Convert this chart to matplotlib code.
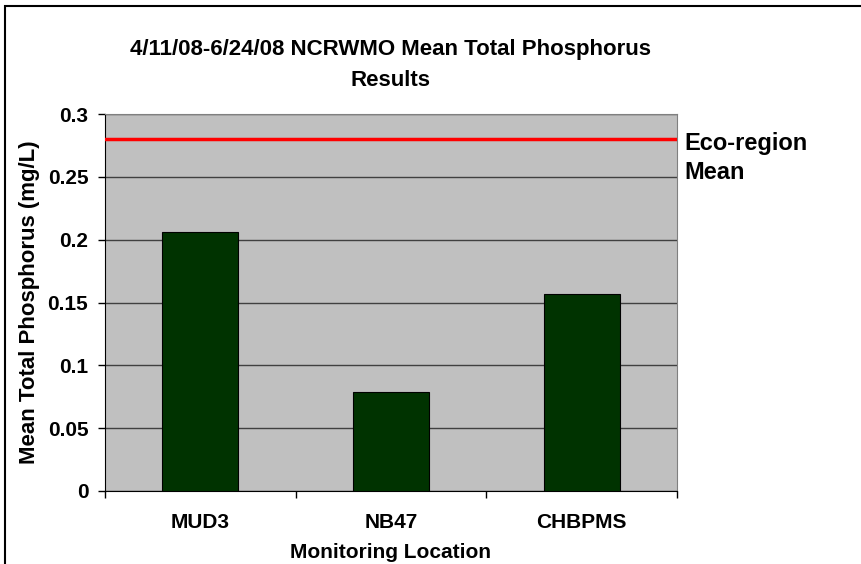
import matplotlib.pyplot as plt
from matplotlib.patches import Rectangle
import numpy as np

plt.rcParams['font.family'] = ['Liberation Sans', 'DejaVu Sans']

locations = ['MUD3', 'NB47', 'CHBPMS']
mean_tp = [0.206, 0.079, 0.157]
eco_mean = 0.28
yticks = [0, 0.05, 0.1, 0.15, 0.2, 0.25, 0.3]
ytick_labels = ['0', '0.05', '0.1', '0.15', '0.2', '0.25', '0.3']

fig = plt.figure(figsize=(8.62, 5.64), dpi=100)
ax = fig.add_axes([105/862, 1-491/564, 572/862, 377/564])

# outer chart border (cut off at right/bottom like the original)
fig.patches.append(Rectangle((5/862, -0.1), 1.2, 1-6/564+0.1, transform=fig.transFigure,
                             fill=False, edgecolor='black', linewidth=1.5))

x = np.arange(len(locations))
ax.set_facecolor('#C0C0C0')
ax.bar(x, mean_tp, width=0.4, color='#003300', edgecolor='black', linewidth=0.8, zorder=3)
ax.axhline(eco_mean, color='#FF0000', linewidth=2.5, zorder=4)

ax.set_xlim(-0.5, len(locations) - 0.5)
ax.set_ylim(0, 0.3)
ax.set_yticks(yticks)
ax.set_yticklabels(ytick_labels, fontsize=15, fontweight='bold')
ax.yaxis.grid(True, color='#404040', linewidth=1, zorder=1)
ax.set_axisbelow(True)

ax.set_xticks(x)
ax.set_xticklabels(locations, fontsize=15, fontweight='bold')
ax.set_xticks(np.arange(len(locations) + 1) - 0.5, minor=True)
ax.tick_params(axis='x', which='major', length=0, pad=16)
ax.tick_params(axis='x', which='minor', length=5, width=1, direction='out')
ax.tick_params(axis='y', length=5, width=1, direction='out', pad=7)

for s in ['top', 'right']:
    ax.spines[s].set_color('#808080')
for s in ['left', 'bottom']:
    ax.spines[s].set_color('black')

ax.set_xlabel('Monitoring Location', fontsize=15, fontweight='bold', va='center')
ax.xaxis.set_label_coords(0.5, (491-552)/377)
ax.set_ylabel('Mean Total Phosphorus (mg/L)', fontsize=16, fontweight='bold', va='center')
ax.yaxis.set_label_coords((30-105)/572, 0.5)

fig.text(391/862, 1-65/564, '4/11/08-6/24/08 NCRWMO Mean Total Phosphorus\nResults',
         ha='center', va='center', fontsize=16, fontweight='bold', linespacing=1.6)
fig.text(684/862, 1-158/564, 'Eco-region\nMean', ha='left', va='center',
         fontsize=17, fontweight='bold', linespacing=1.35)

fig.savefig('out.png', dpi=100)
